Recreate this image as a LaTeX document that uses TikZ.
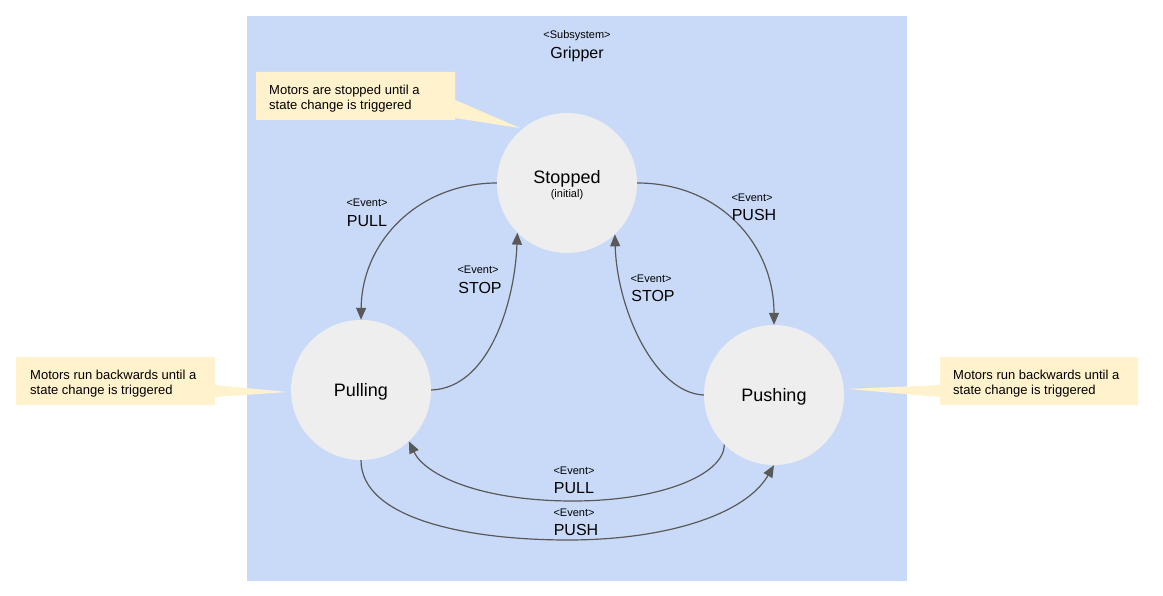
\documentclass[tikz,border=0pt]{standalone}
\usepackage{fontspec}
\setmainfont{Liberation Sans}
\usetikzlibrary{arrows.meta}
\definecolor{subbg}{HTML}{C9DAF8}
\definecolor{statebg}{HTML}{EEEEEE}
\definecolor{notebg}{HTML}{FFF2CC}
\definecolor{edgecol}{HTML}{595959}
\begin{document}
\begin{tikzpicture}[x=1pt,y=-1pt,
  state/.style={circle,fill=statebg,minimum size=140pt,inner sep=0pt},
  trans/.style={draw=edgecol,line width=1.2pt,-{Triangle[length=12pt,width=10pt]}},
  ev/.style={font=\fontsize{11}{12}\selectfont,inner sep=0pt},
  evname/.style={font=\fontsize{16}{18}\selectfont,inner sep=0pt},
  statename/.style={font=\fontsize{18}{20}\selectfont,inner sep=0pt},
  notefill/.style={fill=notebg},
  notetext/.style={font=\fontsize{13}{15}\selectfont,align=left,anchor=west,inner sep=0pt}]
\useasboundingbox (0,0) rectangle (1163,596);
\fill[white] (0,0) rectangle (1163,596);
% subsystem
\fill[subbg] (247,16) rectangle (907,581);
\node[ev] (substereo) at (577,36) {<Subsystem>};
\node[font=\fontsize{16}{18}\selectfont,inner sep=0pt] (subname) at (577,54.5) {Gripper};
% callouts
\fill[notefill] (256,72) -- (455,72) -- (455,100) -- (520,128) -- (455,118) -- (455,120) -- (256,120) -- cycle;
\node[notetext] (note1) at (269,99) {Motors are stopped until a\\state change is triggered};
\fill[notefill] (16,357) -- (215,357) -- (215,385) -- (287,392) -- (215,397) -- (215,405) -- (16,405) -- cycle;
\node[notetext] (note2) at (30,384) {Motors run backwards until a\\state change is triggered};
\fill[notefill] (940,357) -- (1138,357) -- (1138,405) -- (940,405) -- (940,397) -- (848,389) -- (940,385) -- cycle;
\node[notetext] (note3) at (953,384) {Motors run backwards until a\\state change is triggered};
% states
\node[state] (stopped) at (567,183) {};
\node[state] (pulling) at (361,390) {};
\node[state] (pushing) at (774,395) {};
\node[statename] (stoppedtxt) at (567,178.5) {Stopped};
\node[ev] (initialtxt) at (567,195) {(initial)};
\node[statename] (pullingtxt) at (361,391.5) {Pulling};
\node[statename] (pushingtxt) at (774,396.5) {Pushing};
% transitions
\draw[trans] (stopped.west) .. controls (420,183) and (362,240) .. (pulling.north);
\draw[trans] (pulling.east) .. controls (490,388) and (515,300) .. (stopped.225);
\draw[trans] (stopped.east) .. controls (720,183) and (774,245) .. (pushing.north);
\draw[trans] (pushing.west) .. controls (655,393) and (617,310) .. (stopped.313);
\draw[trans] (pushing.225) .. controls (724,475) and (660,501) .. (573,501) .. controls (480,501) and (425,475) .. (pulling.313);
\draw[trans] (pulling.south) .. controls (361,518) and (465,540) .. (568,540) .. controls (665,540) and (745,515) .. (pushing.south);
% labels
\node[ev] (e1) at (367,203) {<Event>};
\node[evname] (l1) at (367,221) {PULL};
\node[ev] (e2) at (478,270) {<Event>};
\node[evname] (l2) at (480,288) {STOP};
\node[ev] (e3) at (752,198) {<Event>};
\node[evname] (l3) at (754,215) {PUSH};
\node[ev] (e4) at (651,279) {<Event>};
\node[evname] (l4) at (653,296) {STOP};
\node[ev] (e5) at (574,471) {<Event>};
\node[evname] (l5) at (574,488) {PULL};
\node[ev] (e6) at (574,513) {<Event>};
\node[evname] (l6) at (576,530) {PUSH};
\end{tikzpicture}
\end{document}
